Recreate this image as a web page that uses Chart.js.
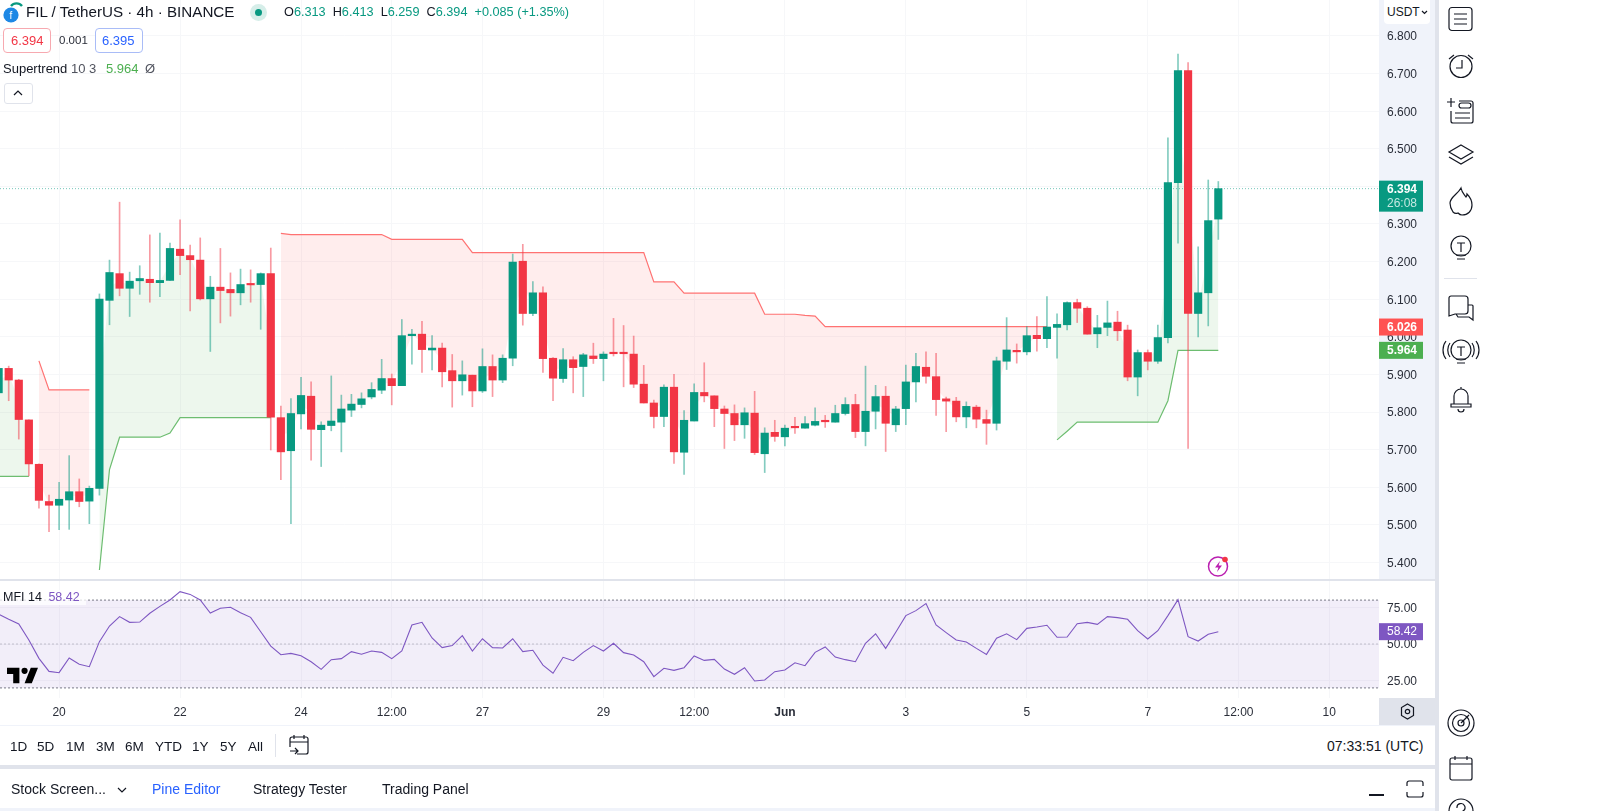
<!DOCTYPE html>
<html>
<head>
<meta charset="utf-8">
<title>FIL / TetherUS</title>
<script src="https://cdn.jsdelivr.net/npm/chart.js@4/dist/chart.umd.min.js"></script>
<style>
  html, body { margin: 0; padding: 0; background: #fff; overflow: hidden; }
  body { width: 1600px; height: 811px; position: relative; font-family: "Liberation Sans", Arial, sans-serif; color: #131722; }
  canvas { position: absolute; display: block; }
  .box { position: absolute; }
  .t { position: absolute; white-space: nowrap; line-height: 1; }
  .g { color: #089981; }
  svg { position: absolute; overflow: visible; }
  .icon path, .icon circle, .icon rect, .icon line { fill: none; stroke: #131722; stroke-width: 1.2; }
</style>
</head>
<body>
<!-- panel backgrounds, behind the canvases -->
<div class="box" style="left:1379px;top:0;width:56px;height:579px;background:#f0f3fa"></div>
<div class="box" style="left:1379px;top:698px;width:56px;height:27px;background:#e0e3eb"></div>
<div class="box" style="left:1435px;top:0;width:4px;height:811px;background:#e0e3eb"></div>
<div class="box" style="left:0;top:579px;width:1435px;height:2px;background:#e0e3eb"></div>
<div class="box" style="left:0;top:725px;width:1435px;height:1px;background:#f0f3fa"></div>
<div class="box" style="left:0;top:765px;width:1439px;height:4px;background:#e0e3eb"></div>
<div class="box" style="left:0;top:808px;width:1435px;height:3px;background:#f0f3fa"></div>

<canvas id="priceChart" width="1435" height="579" style="left:0;top:0"></canvas>
<canvas id="mfiChart" width="1435" height="144" style="left:0;top:581px"></canvas>

<!-- header -->
<svg style="left:3px;top:3px" width="20" height="20" viewBox="0 0 20 20">
  <path d="M8 3a7 7 0 0 1 11 0" fill="none" stroke="#089981" stroke-width="2.4"/>
  <circle cx="8" cy="12" r="7.6" fill="#1e88e5"/>
  <text x="8" y="16" font-size="10" fill="#fff" text-anchor="middle" font-family="Liberation Sans">f</text>
</svg>
<div class="t" style="left:26px;top:4px;font-size:15.2px">FIL / TetherUS · 4h · BINANCE</div>
<div class="box" style="left:250px;top:4px;width:17px;height:17px;border-radius:50%;background:#d6eee9"></div>
<div class="box" style="left:255px;top:9px;width:7px;height:7px;border-radius:50%;background:#089981"></div>
<div class="t g" style="left:284px;top:6px;font-size:12.7px"><span style="color:#131722">O</span>6.313 <span style="color:#131722">&nbsp;H</span>6.413 <span style="color:#131722">&nbsp;L</span>6.259 <span style="color:#131722">&nbsp;C</span>6.394 &nbsp;+0.085 (+1.35%)</div>
<div class="box" style="left:3px;top:28px;width:46px;height:23px;border:1px solid #f7a9b0;border-radius:4px;background:#fff"></div>
<div class="t" style="left:11px;top:34px;font-size:13px;color:#f23645">6.394</div>
<div class="t" style="left:59px;top:35px;font-size:11.5px;color:#2a2e39">0.001</div>
<div class="box" style="left:95px;top:28px;width:46px;height:23px;border:1px solid #a9bcf7;border-radius:4px;background:#fff"></div>
<div class="t" style="left:102px;top:34px;font-size:13px;color:#2962ff">6.395</div>
<div class="t" style="left:3px;top:62px;font-size:13px">Supertrend <span style="color:#50535e">10 3</span></div>
<div class="t" style="left:106px;top:62px;font-size:13px;color:#4caf50">5.964</div>
<div class="t" style="left:145px;top:62px;font-size:13px;color:#50535e">Ø</div>
<div class="box" style="left:4px;top:83px;width:27px;height:19px;border:1px solid #e0e3eb;border-radius:3px;background:#fff"></div>
<svg class="icon" style="left:13px;top:90px" width="10" height="6"><path d="M1 5l4-4 4 4"/></svg>

<div class="box" style="left:1384px;top:0;width:46px;height:24px;background:#fff;border-radius:0 0 4px 4px"></div>
<div class="t" style="left:1387px;top:6px;font-size:12px">USDT</div>
<svg class="icon" style="left:1421px;top:10px" width="7" height="5"><path d="M1 1l2.5 2.5L6 1"/></svg>

<svg style="left:1207px;top:555px" width="24" height="24" viewBox="0 0 24 24">
  <circle cx="11" cy="11.5" r="9.5" fill="none" stroke="#ba1fb0" stroke-width="1.5"/>
  <path d="M13 6l-5 6.500h3.400l-1.400 4.500 5-6.500h-3.400z" fill="#ba1fb0"/>
  <circle cx="18" cy="4.500" r="2.800" fill="#f23645"/>
</svg>

<!-- indicator pane header and watermark -->
<div class="box" style="left:0;top:590px;width:86px;height:15px;background:rgba(255,255,255,.75)"></div>
<div class="t" style="left:3px;top:591px;font-size:12.5px">MFI 14 <span style="color:#7e57c2;margin-left:3px">58.42</span></div>
<svg style="left:7px;top:664px" width="31" height="24" viewBox="2 5 30 18">
  <path d="M14 6H2v6h6v9h6V6zm12 15h-7l6-15h7l-6 15zm-7-9a3 3 0 1 0 0-6 3 3 0 0 0 0 6z" fill="#000"/>
</svg>

<!-- range bar -->
<div class="t" style="left:10px;top:740px;font-size:13.5px">1D</div>
<div class="t" style="left:37px;top:740px;font-size:13.5px">5D</div>
<div class="t" style="left:66px;top:740px;font-size:13.5px">1M</div>
<div class="t" style="left:96px;top:740px;font-size:13.5px">3M</div>
<div class="t" style="left:125px;top:740px;font-size:13.5px">6M</div>
<div class="t" style="left:155px;top:740px;font-size:13.5px">YTD</div>
<div class="t" style="left:192px;top:740px;font-size:13.5px">1Y</div>
<div class="t" style="left:220px;top:740px;font-size:13.5px">5Y</div>
<div class="t" style="left:248px;top:740px;font-size:13.5px">All</div>
<div class="box" style="left:275px;top:734px;width:1px;height:23px;background:#e0e3eb"></div>
<svg class="icon" style="left:289px;top:734px" width="20" height="22" viewBox="0 0 20 22">
  <path d="M8 20h9a2 2 0 0 0 2-2V5a2 2 0 0 0-2-2H3a2 2 0 0 0-2 2v8M1 8h18M5 1v4M15 1v4M1 17h8M6 14l3 3-3 3"/>
</svg>
<div class="t" style="left:1327px;top:739px;font-size:14px">07:33:51 (UTC)</div>

<!-- bottom tabs -->
<div class="t" style="left:11px;top:782px;font-size:14px">Stock Screen...</div>
<svg class="icon" style="left:117px;top:787px" width="10" height="6"><path d="M1 1l4 4 4-4"/></svg>
<div class="t" style="left:152px;top:782px;font-size:14px;color:#2962ff">Pine Editor</div>
<div class="t" style="left:253px;top:782px;font-size:14px">Strategy Tester</div>
<div class="t" style="left:382px;top:782px;font-size:14px">Trading Panel</div>
<div class="box" style="left:1369px;top:794px;width:15px;height:1.500px;background:#131722"></div>
<svg class="icon" style="left:1406px;top:780px" width="18" height="18"><path d="M1 6V3a2 2 0 0 1 2-2h12a2 2 0 0 1 2 2v3M1 12v3a2 2 0 0 0 2 2h12a2 2 0 0 0 2-2v-3"/></svg>

<!-- right toolbar -->
<svg class="icon" style="left:1448px;top:6px" width="26" height="26"><rect x="1" y="1.500" width="23" height="23" rx="3"/><path d="M6 8h13M6 13h13M6 18h13"/></svg>
<svg class="icon" style="left:1447px;top:52px" width="28" height="28"><circle cx="14" cy="14.500" r="11"/><path d="M15 8v8H9M2 7l5-4M26 7l-5-4"/></svg>
<svg class="icon" style="left:1446px;top:97px" width="30" height="28"><path d="M5 14v10a2 2 0 0 0 2 2h18a2 2 0 0 0 2-2V6a2 2 0 0 0-2-2H13M5 1v9M1 5h8"/><rect x="13" y="6" width="12" height="5" rx="2.500"/><path d="M9 16h15M9 21h15"/></svg>
<svg class="icon" style="left:1447px;top:144px" width="28" height="22"><path d="M14 1l12 7-12 7-12-7zM2 13l12 7 12-7"/></svg>
<svg class="icon" style="left:1449px;top:187px" width="24" height="29"><path d="M12 1c1 5 3 6 5 9 1-1 1-2 1-3 3 3 5 7 5 11 0 6-4 10-10 10-2 0-3-1-4-2-2 1-3 1-5-1-2-3-3-6-3-9 0-6 8-9 11-15z"/></svg>
<svg class="icon" style="left:1450px;top:235px" width="22" height="28"><circle cx="11" cy="11" r="10"/><path d="M7 8h8M11 8v9M6 20h10M7 24h8"/></svg>
<div class="box" style="left:1444px;top:278px;width:33px;height:1px;background:#e0e3eb"></div>
<svg class="icon" style="left:1448px;top:295px" width="26" height="26"><path d="M3 1h14a3 3 0 0 1 3 3v12a3 3 0 0 1-3 3H7l-6 2V3a2 2 0 0 1 2-2zM20 10h4a1 1 0 0 1 1 1v14l-4-3H10l-2-3"/></svg>
<svg class="icon" style="left:1444px;top:339px" width="34" height="28"><circle cx="17" cy="11" r="10"/><path d="M13 8h8M17 8v9M12 20h10M13 24h8M6 4c-3 4-3 10 0 14M2 2c-4 5-4 13 0 18M28 4c3 4 3 10 0 14M32 2c4 5 4 13 0 18"/></svg>
<svg class="icon" style="left:1450px;top:386px" width="22" height="25"><path d="M4 18V10a7 7 0 0 1 14 0v8M1 18h20v3H1zM8 23a3 3 0 0 0 6 0M11 1v2"/></svg>
<svg class="icon" style="left:1447px;top:709px" width="28" height="28"><circle cx="14" cy="14" r="13"/><circle cx="14" cy="14" r="8.500"/><circle cx="14" cy="14" r="3"/><path d="M14 14l8-8"/></svg>
<svg class="icon" style="left:1449px;top:755px" width="24" height="26"><rect x="1" y="3" width="22" height="22" rx="2"/><path d="M1 9h22M6 1v4M18 1v4"/></svg>
<svg class="icon" style="left:1448px;top:798px" width="26" height="26"><circle cx="13" cy="13" r="12"/><path d="M9 10a4 4 0 1 1 6 3c-1 1-2 1-2 3"/></svg>

<script>
// bar numbers run from -1 (first candle, cut by the left edge) to 120 (live candle)
const firstBar = -1;

const opens = [
  5.851,5.916,5.885,5.779,5.661,5.562,5.552,5.566,5.588,5.563,
  5.597,6.097,6.168,6.129,6.149,6.153,6.144,6.150,6.233,6.216,
  6.204,6.101,6.132,6.126,6.117,6.139,6.139,6.168,5.785,5.697,
  5.795,5.842,5.753,5.764,5.773,5.805,5.820,5.840,5.858,5.889,
  5.870,6.003,6.007,5.965,5.970,5.910,5.883,5.898,5.856,5.921,
  5.885,5.943,6.201,6.062,6.117,5.943,5.889,5.939,5.921,5.949,
  5.942,5.957,5.957,5.954,5.874,5.824,5.788,5.866,5.693,5.776,
  5.852,5.843,5.808,5.796,5.766,5.797,5.689,5.746,5.734,5.760,
  5.757,5.765,5.776,5.773,5.796,5.820,5.748,5.802,5.842,5.766,
  5.809,5.880,5.919,5.894,5.835,5.829,5.787,5.813,5.780,5.770,
  5.935,5.962,5.960,6.004,5.995,6.025,6.032,6.091,6.076,6.008,
  6.025,6.039,6.018,5.893,5.958,5.935,5.998,6.410,6.708,6.062,
  6.117,6.313
];
const closes = [
  5.916,5.885,5.780,5.662,5.565,5.552,5.568,5.588,5.562,5.597,
  6.100,6.171,6.129,6.148,6.155,6.144,6.150,6.235,6.216,6.205,
  6.101,6.132,6.123,6.117,6.139,6.138,6.168,5.786,5.694,5.796,
  5.844,5.754,5.765,5.776,5.808,5.821,5.835,5.860,5.889,5.870,
  6.003,6.007,5.966,5.970,5.907,5.883,5.899,5.856,5.921,5.885,
  5.943,6.199,6.062,6.117,5.942,5.890,5.939,5.918,5.952,5.942,
  5.954,5.955,5.955,5.874,5.824,5.788,5.866,5.694,5.778,5.852,
  5.843,5.809,5.796,5.766,5.798,5.692,5.744,5.735,5.757,5.758,
  5.769,5.775,5.774,5.796,5.820,5.748,5.802,5.841,5.770,5.808,
  5.880,5.921,5.895,5.833,5.829,5.787,5.815,5.781,5.770,5.936,
  5.965,5.960,6.003,5.995,6.026,6.033,6.091,6.076,6.007,6.024,
  6.037,6.016,5.893,5.958,5.935,5.998,6.410,6.708,6.062,6.117,
  6.309,6.394
];
const highs = [
  5.930,5.922,5.887,5.779,5.662,5.579,5.613,5.684,5.622,5.603,
  6.114,6.204,6.358,6.172,6.189,6.271,6.276,6.249,6.311,6.244,
  6.263,6.161,6.235,6.170,6.180,6.178,6.170,6.236,5.816,5.836,
  5.892,5.880,5.774,5.896,5.845,5.847,5.851,5.878,5.940,5.901,
  6.046,6.020,6.041,6.003,5.983,5.953,5.936,5.898,5.968,5.952,
  5.952,6.220,6.246,6.147,6.133,5.945,5.969,5.947,5.956,5.983,
  5.960,6.049,6.030,6.002,5.924,5.832,5.872,5.900,5.804,5.875,
  5.931,5.843,5.816,5.819,5.811,5.855,5.758,5.778,5.765,5.786,
  5.788,5.811,5.791,5.818,5.838,5.847,5.922,5.871,5.868,5.815,
  5.925,5.956,5.960,5.956,5.840,5.839,5.827,5.818,5.805,5.946,
  6.051,5.981,6.027,6.054,6.107,6.061,6.093,6.100,6.080,6.057,
  6.095,6.068,6.031,5.965,5.965,6.031,6.529,6.752,6.729,6.239,
  6.417,6.413
];
const lows = [
  5.840,5.830,5.728,5.630,5.544,5.482,5.487,5.488,5.548,5.503,
  5.579,6.032,6.109,6.054,6.113,6.092,6.107,6.150,6.165,6.069,
  6.098,5.961,6.037,6.055,6.085,6.092,6.020,5.699,5.620,5.503,
  5.755,5.672,5.655,5.750,5.694,5.788,5.811,5.835,5.849,5.819,
  5.870,5.927,5.905,5.912,5.867,5.813,5.845,5.814,5.852,5.841,
  5.878,5.923,6.031,6.056,5.905,5.830,5.879,5.851,5.841,5.929,
  5.883,5.949,5.867,5.865,5.824,5.758,5.761,5.663,5.634,5.776,
  5.827,5.761,5.703,5.724,5.730,5.687,5.639,5.722,5.710,5.743,
  5.757,5.763,5.759,5.773,5.792,5.732,5.710,5.755,5.695,5.748,
  5.766,5.827,5.877,5.791,5.748,5.774,5.758,5.758,5.714,5.752,
  5.913,5.930,5.952,5.962,5.971,5.943,6.018,6.038,6.007,5.971,
  6.003,5.990,5.883,5.843,5.912,5.929,5.984,6.249,5.703,6.000,
  6.029,6.259
];
const supertrendUp = [
  5.629,5.629,5.629,5.629,null,null,null,null,null,null,
  5.380,5.647,5.733,5.733,5.733,5.733,5.733,5.744,5.785,5.785,
  5.785,5.785,5.785,5.785,5.785,5.785,5.785,5.785,null,null,
  null,null,null,null,null,null,null,null,null,null,
  null,null,null,null,null,null,null,null,null,null,
  null,null,null,null,null,null,null,null,null,null,
  null,null,null,null,null,null,null,null,null,null,
  null,null,null,null,null,null,null,null,null,null,
  null,null,null,null,null,null,null,null,null,null,
  null,null,null,null,null,null,null,null,null,null,
  null,null,null,null,null,5.726,5.749,5.773,5.773,5.773,
  5.773,5.773,5.773,5.773,5.773,5.773,5.830,5.964,5.964,5.964,
  5.964,5.964
];
const supertrendDown = [
  null,null,null,null,5.936,5.859,5.859,5.859,5.859,5.859,
  null,null,null,null,null,null,null,null,null,null,
  null,null,null,null,null,null,null,null,6.275,6.272,
  6.272,6.272,6.272,6.272,6.272,6.272,6.272,6.272,6.272,6.259,
  6.259,6.259,6.259,6.259,6.259,6.259,6.259,6.224,6.224,6.224,
  6.224,6.224,6.224,6.224,6.224,6.224,6.224,6.224,6.224,6.224,
  6.224,6.224,6.224,6.224,6.224,6.146,6.146,6.146,6.116,6.116,
  6.116,6.116,6.116,6.116,6.116,6.116,6.060,6.060,6.060,6.060,
  6.057,6.055,6.027,6.027,6.027,6.027,6.027,6.027,6.027,6.027,
  6.027,6.027,6.027,6.027,6.027,6.027,6.027,6.027,6.027,6.027,
  6.027,6.027,6.027,6.027,6.027,null,null,null,null,null,
  null,null,null,null,null,null,null,null,null,null,
  null,null
];
const mfiValues = [
  70.3,66.9,63.7,52.7,40.2,31.3,30.4,40.4,36.1,34.5,
  51.6,62.3,68.7,64.8,65.0,71.0,75.7,80.1,85.8,83.9,
  80.1,71.2,74.4,75.1,71.4,68.2,58.4,48.6,42.7,43.6,
  42.0,37.9,32.7,39.3,40.0,44.8,43.0,45.2,44.3,40.0,
  45.2,63.0,64.8,54.1,47.5,48.9,55.7,45.2,53.6,47.5,
  47.3,53.6,44.8,45.7,35.6,30.0,40.9,38.6,44.3,48.9,
  45.2,50.5,44.1,42.5,37.9,27.7,33.4,32.0,33.8,41.8,
  38.8,39.5,32.9,29.3,33.8,24.7,25.4,31.1,32.2,37.2,
  35.2,44.3,48.0,41.1,39.3,37.9,50.5,57.0,47.0,58.0,
  69.4,72.8,77.6,63.0,57.8,52.7,51.4,47.0,42.9,53.9,
  57.0,53.0,60.7,61.6,62.8,54.6,54.8,63.9,64.8,63.4,
  68.7,68.0,66.9,59.1,53.4,59.1,69.4,80.3,55.0,52.0,
  56.6,58.42
];

const priceTicks = [5.4,5.5,5.6,5.7,5.8,5.9,6.0,6.1,6.2,6.3,6.4,6.5,6.6,6.7,6.8];
const mfiTicks = [25, 50, 75];
const mfiBandHigh = 80, mfiBandMid = 50, mfiBandLow = 20;
const timeTickBars = [5,17,29,38,47,59,68,77,89,101,113,122,131];
const timeTickLabels = ["20","22","24","12:00","27","29","12:00","Jun","3","5","7","12:00","10"];

const lastClose = 6.394;
const supertrendLast = 5.964;
const supertrendOtherLast = 6.026;
const mfiLast = 58.42;

// visible window of the time scale, in bar numbers
const barMin = -0.863, barMax = 135.94;

const GREEN = "#089981", RED = "#f23645";
const GREEN_WICK = "rgba(8,153,129,0.5)", RED_WICK = "rgba(242,54,69,0.5)";
const GRID = "#f6f7f9";
const FONT = "'Liberation Sans', Arial, sans-serif";

Chart.defaults.font.family = FONT;
Chart.defaults.font.size = 12;
Chart.defaults.color = "#2a2e39";

function series(values) {
  return values.map((v, i) => ({ x: i + firstBar, y: v }));
}
function flatLine(v) {
  return [{ x: barMin, y: v }, { x: barMax, y: v }];
}

const isUp = opens.map((o, i) => closes[i] >= o);
const bodyMiddle = opens.map((o, i) => (o + closes[i]) / 2);

// labels near the edges must not push the plot area in
function noPadding(axis) {
  axis.paddingTop = axis.paddingBottom = axis.paddingLeft = axis.paddingRight = 0;
}

function xAxis(showLabels) {
  return {
    type: "linear",
    offset: false,
    min: barMin,
    max: barMax,
    border: { display: false },
    grid: { color: GRID, drawTicks: false, offset: false },
    afterBuildTicks(axis) { axis.ticks = timeTickBars.map(v => ({ value: v })); },
    afterFit(axis) { axis.height = showLabels ? 27 : 0; noPadding(axis); },
    ticks: {
      display: showLabels,
      autoSkip: false,
      maxRotation: 0,
      padding: 7,
      callback: v => timeTickLabels[timeTickBars.indexOf(v)],
      font: c => ({ size: 12, weight: timeTickLabels[c.index] === "Jun" ? "bold" : "normal" })
    }
  };
}

function badge(ctx, left, top, w, h, color) {
  ctx.fillStyle = color;
  ctx.fillRect(left, top, w, h);
}

const priceBadges = {
  id: "priceBadges",
  afterDraw(chart) {
    const ctx = chart.ctx, y = chart.scales.y, left = y.left;
    ctx.save();
    ctx.font = "bold 12px " + FONT;
    ctx.textAlign = "left";
    ctx.textBaseline = "middle";

    let py = y.getPixelForValue(lastClose);
    badge(ctx, left, py - 8, 44, 31, GREEN);
    ctx.fillStyle = "#fff";
    ctx.fillText(lastClose.toFixed(3), left + 8, py + 1);
    ctx.font = "12px " + FONT;
    ctx.fillStyle = "#c4e8e1";
    ctx.fillText("26:08", left + 8, py + 15);

    ctx.font = "bold 12px " + FONT;
    py = y.getPixelForValue(supertrendOtherLast);
    badge(ctx, left, py - 8.5, 44, 17, "#ff5252");
    ctx.fillStyle = "#fff";
    ctx.fillText(supertrendOtherLast.toFixed(3), left + 8, py + 0.5);

    py = y.getPixelForValue(supertrendLast);
    badge(ctx, left, py - 8.5, 44, 17, "#4caf50");
    ctx.fillStyle = "#fff";
    ctx.fillText(supertrendLast.toFixed(3), left + 8, py + 0.5);
    ctx.restore();
  }
};

const mfiBadge = {
  id: "mfiBadge",
  afterDraw(chart) {
    const ctx = chart.ctx, y = chart.scales.y, py = y.getPixelForValue(mfiLast);
    ctx.save();
    badge(ctx, y.left, py - 8.5, 44, 17, "#7e57c2");
    ctx.fillStyle = "#fff";
    ctx.font = "12px " + FONT;
    ctx.textBaseline = "middle";
    ctx.fillText(mfiLast.toFixed(2), y.left + 8, py + 0.5);
    ctx.restore();
  }
};

new Chart(document.getElementById("priceChart"), {
  data: {
    datasets: [
      // 0: body middle, only the supertrend fills lean on it
      { type: "line", data: series(bodyMiddle), borderWidth: 0, borderColor: "transparent", pointRadius: 0, order: 9 },
      { type: "line", data: series(supertrendUp), borderColor: "#6dbd70", borderWidth: 1.2, pointRadius: 0,
        spanGaps: false, fill: { target: 0 }, backgroundColor: "rgba(76,175,80,0.1)", order: 5 },
      { type: "line", data: series(supertrendDown), borderColor: "#ff7272", borderWidth: 1.2, pointRadius: 0,
        spanGaps: false, fill: { target: 0 }, backgroundColor: "rgba(255,82,82,0.1)", order: 5 },
      { type: "line", data: flatLine(lastClose), borderColor: "rgba(8,153,129,0.55)", borderWidth: 1, borderDash: [1, 2], pointRadius: 0, order: 4 },
      { type: "bar", data: series(lows).map((p, i) => ({ x: p.x, y: [lows[i], highs[i]] })),
        backgroundColor: isUp.map(u => u ? GREEN_WICK : RED_WICK), barThickness: 1, grouped: false, order: 2 },
      { type: "bar", data: series(opens).map((p, i) => ({ x: p.x, y: [opens[i], closes[i]] })),
        backgroundColor: isUp.map(u => u ? GREEN : RED), barThickness: 7.5, minBarLength: 1.5, grouped: false, order: 1 }
    ]
  },
  options: {
    responsive: false,
    animation: false,
    devicePixelRatio: 1,
    layout: { autoPadding: false },
    plugins: { legend: { display: false }, tooltip: { enabled: false } },
    scales: {
      x: xAxis(false),
      y: {
        position: "right",
        min: 5.3559,
        max: 6.8957,
        border: { display: false },
        grid: { color: GRID, drawTicks: false },
        afterFit(axis) { axis.width = 56; noPadding(axis); },
        afterBuildTicks(axis) { axis.ticks = priceTicks.map(v => ({ value: v })); },
        ticks: { padding: 8, labelOffset: 1, callback: v => v.toFixed(3) }
      }
    }
  },
  plugins: [priceBadges]
});

new Chart(document.getElementById("mfiChart"), {
  data: {
    datasets: [
      { type: "line", data: flatLine(mfiBandLow), borderColor: "#787b86", borderWidth: 1, borderDash: [2, 2], pointRadius: 0, order: 6 },
      { type: "line", data: flatLine(mfiBandHigh), borderColor: "#787b86", borderWidth: 1, borderDash: [2, 2], pointRadius: 0,
        fill: { target: 0 }, backgroundColor: "rgba(126,87,194,0.1)", order: 6 },
      { type: "line", data: flatLine(mfiBandMid), borderColor: "rgba(120,123,134,0.4)", borderWidth: 1, borderDash: [2, 2], pointRadius: 0, order: 5 },
      { type: "line", data: series(mfiValues), borderColor: "#7e57c2", borderWidth: 1.1, pointRadius: 0, order: 1 }
    ]
  },
  options: {
    responsive: false,
    animation: false,
    devicePixelRatio: 1,
    layout: { autoPadding: false },
    plugins: { legend: { display: false }, tooltip: { enabled: false } },
    scales: {
      x: xAxis(true),
      y: {
        position: "right",
        min: 13.1,
        max: 93.05,
        border: { display: false },
        grid: { color: GRID, drawTicks: false },
        afterFit(axis) { axis.width = 56; noPadding(axis); },
        afterBuildTicks(axis) { axis.ticks = mfiTicks.map(v => ({ value: v })); },
        ticks: { padding: 8, labelOffset: 1, callback: v => v.toFixed(2) }
      }
    }
  },
  plugins: [mfiBadge]
});
</script>
<!-- cog in the corner of the scales -->
<svg class="icon" style="left:1400px;top:703px" width="15" height="17"><path d="M7.500 1l6 3.500v8l-6 3.500-6-3.500v-8z"/><circle cx="7.500" cy="8.500" r="2.200"/></svg>
</body>
</html>
